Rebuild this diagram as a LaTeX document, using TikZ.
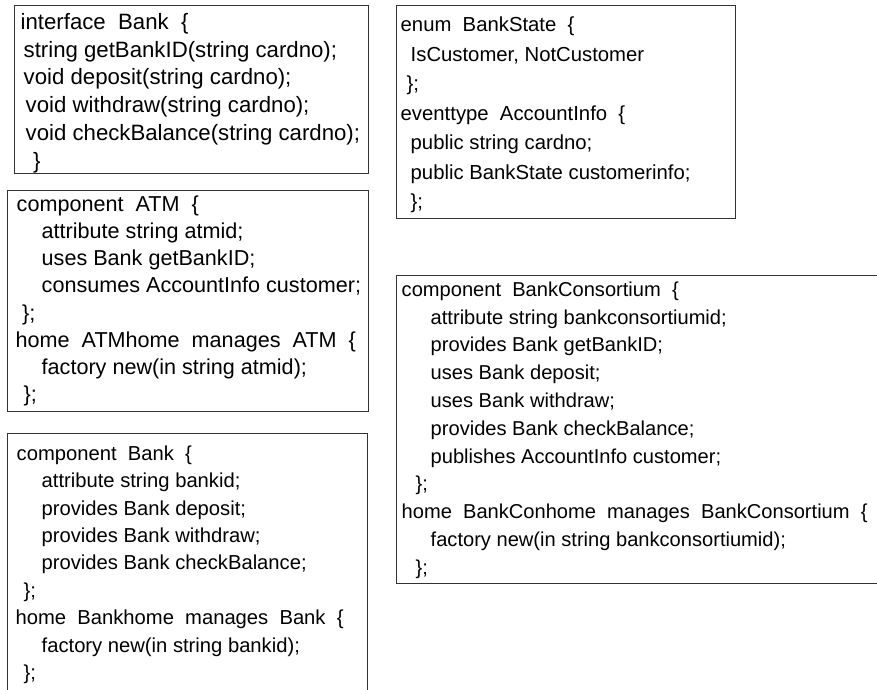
\documentclass[tikz,border=0pt]{standalone}
\usepackage{fontspec}
\setmainfont{Liberation Sans}
\definecolor{boxline}{rgb}{0.2,0.2,0.2}
\tikzset{
  codebox/.style={draw=boxline, line width=1.2pt, anchor=north west, inner sep=0pt},
  codetext/.style={anchor=north west, inner sep=0pt, align=left}
}

\begin{document}
\begin{tikzpicture}[x=1pt,y=-1pt]
	\useasboundingbox (0,0) rectangle (877,689);
	\clip (0,0) rectangle (877,689);
	\node[codebox, minimum width=354, minimum height=168] (ifaceBox) at (14,5) {};
	\node[codebox, minimum width=361, minimum height=221] (atmBox) at (7,190) {};
	\node[codebox, minimum width=360, minimum height=262] (bankBox) at (7,433) {};
	\node[codebox, minimum width=339, minimum height=213] (enumBox) at (396,5) {};
	\node[codebox, minimum width=490, minimum height=308] (consBox) at (396,275) {};
	\node[codetext, font=\fontsize{22.2}{27.8}\selectfont] (ifaceText) at ([shift={(0,7)}]ifaceBox.north west) {\rule{0pt}{17pt}\hspace*{6.5pt}interface~~Bank~~\{\\
		\hspace*{9.5pt}string getBankID(string cardno);\\
		\hspace*{9.5pt}void deposit(string cardno);\\
		\hspace*{11.5pt}void withdraw(string cardno);\\
		\hspace*{11.5pt}void checkBalance(string cardno);\\
		\hspace*{19pt}\}};
	\node[codetext, font=\fontsize{21.6}{27.2}\selectfont] (atmText) at ([shift={(0,4)}]atmBox.north west) {\rule{0pt}{17pt}\hspace*{9.5pt}component~~ATM~~\{\\
		\hspace*{34.5pt}attribute string atmid;\\
		\hspace*{34.5pt}uses Bank getBankID;\\
		\hspace*{34.5pt}consumes AccountInfo customer;\\
		\hspace*{15pt}\};\\
		\hspace*{8.5pt}home~~ATMhome~~manages~~ATM~~\{\\
		\hspace*{34.5pt}factory new(in string atmid);\\
		\hspace*{16.5pt}\};};
	\node[codetext, font=\fontsize{20.2}{27.4}\selectfont] (bankText) at ([shift={(0,10)}]bankBox.north west) {\rule{0pt}{17pt}\hspace*{9.5pt}component~~Bank~~\{\\
		\hspace*{34.5pt}attribute string bankid;\\
		\hspace*{34.5pt}provides Bank deposit;\\
		\hspace*{34.5pt}provides Bank withdraw;\\
		\hspace*{34.5pt}provides Bank checkBalance;\\
		\hspace*{16.5pt}\};\\
		\hspace*{8.5pt}home~~Bankhome~~manages~~Bank~~\{\\
		\hspace*{34.5pt}factory new(in string bankid);\\
		\hspace*{16.5pt}\};};
	\node[codetext, font=\fontsize{20.3}{29.5}\selectfont] (enumText) at ([shift={(0,9.7)}]enumBox.north west) {\rule{0pt}{17pt}\hspace*{4.5pt}enum~~BankState~~\{\\
		\hspace*{14.5pt}IsCustomer, NotCustomer\\
		\hspace*{10.5pt}\};\\
		\hspace*{4.5pt}eventtype~~AccountInfo~~\{\\
		\hspace*{14.5pt}public string cardno;\\
		\hspace*{14.5pt}public BankState customerinfo;\\
		\hspace*{14.5pt}\};};
	\node[codetext, font=\fontsize{20.1}{27.8}\selectfont] (consText) at ([shift={(0,4)}]consBox.north west) {\rule{0pt}{17pt}\hspace*{5.5pt}component~~BankConsortium~~\{\\
		\hspace*{34.5pt}attribute string bankconsortiumid;\\
		\hspace*{34.5pt}provides Bank getBankID;\\
		\hspace*{34.5pt}uses Bank deposit;\\
		\hspace*{34.5pt}uses Bank withdraw;\\
		\hspace*{34.5pt}provides Bank checkBalance;\\
		\hspace*{34.5pt}publishes AccountInfo customer;\\
		\hspace*{19.5pt}\};\\
		\hspace*{5.5pt}home~~BankConhome~~manages~~BankConsortium~~\{\\
		\hspace*{34.5pt}factory new(in string bankconsortiumid);\\
		\hspace*{19.5pt}\};};
\end{tikzpicture}
\end{document}
